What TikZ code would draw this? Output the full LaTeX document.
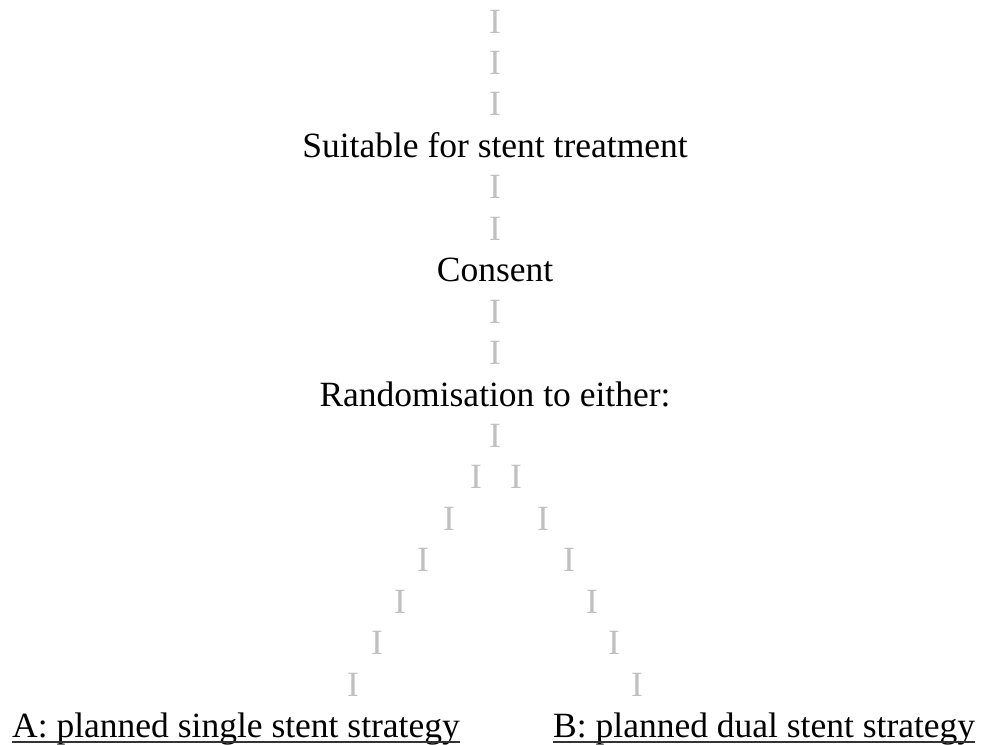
\documentclass[tikz,border=0pt]{standalone}
\usepackage{fontspec}
\setmainfont{Liberation Serif}
\usetikzlibrary{positioning}
\definecolor{barGray}{RGB}{192,192,192}

\begin{document}
\begin{tikzpicture}[
  x=1pt, y=-1pt,
  font=\fontsize{35.5}{40}\selectfont,
  stage/.style={inner sep=0pt, anchor=base, text=black},
  bar/.style={inner sep=0pt, anchor=base, text=barGray},
  uline/.style={line width=1.8pt, black!80}
]
\useasboundingbox (0,0) rectangle (984,744);

% Trunk of I-bars (rows 1-3, 5-6, 8-9, 11)
\foreach \r in {1,2,3,5,6,8,9,11} {
  \node[bar] (bar-\r) at (495, 33+41.45*\r-41.45) {I};
}

% Stages
\node[stage] (suitable) at (495, 157.4) {Suitable for stent treatment};
\node[stage] (consent) at (495, 281.7) {Consent};
\node[stage] (random) at (495, 406) {Randomisation to either:};

% Two branches
\foreach \r/\xl/\xr in {12/476/516, 13/449/543, 14/423/569, 15/400/592, 16/377/614, 17/353/637} {
  \node[bar] (left-\r) at (\xl, 33+41.45*\r-41.45) {I};
  \node[bar] (right-\r) at (\xr, 33+41.45*\r-41.45) {I};
}

% Arms
\node[stage, anchor=base west] (armA) at (12, 737.5) {A: planned single stent strategy};
\node[stage, anchor=base west] (armB) at (553, 737.5) {B: planned dual stent strategy};
\draw[uline] ([yshift=-4.5pt]armA.base west) -- ([yshift=-4.5pt]armA.base east);
\draw[uline] ([yshift=-4.5pt]armB.base west) -- ([yshift=-4.5pt]armB.base east);

\end{tikzpicture}
\end{document}
